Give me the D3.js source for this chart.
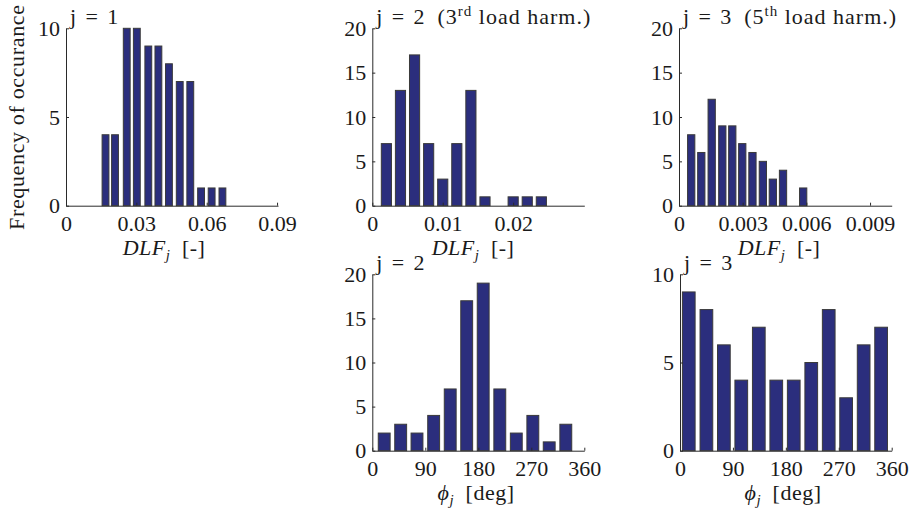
<!DOCTYPE html>
<html><head><meta charset="utf-8">
<script src="https://cdn.jsdelivr.net/npm/d3@7"></script>
<style>
body{margin:0;background:#fff}
</style>
</head><body>
<svg id="c" width="914" height="513"></svg>
<script>
// ---- data ----
const dlf1Centers = [0.01685,0.0209,0.0259,0.0302,0.0351,0.0394,0.0439,0.0485,0.0530,0.0576,0.0621,0.0667];
const dlf1Counts  = [4,4,10,10,9,9,8,7,7,1,1,1];
const dlf2Centers = [0.002,0.004,0.006,0.008,0.010,0.012,0.014,0.016,0.018,0.020,0.022,0.024];
const dlf2Counts  = [7,13,17,7,3,7,13,1,0,1,1,1];
const dlf3Centers = [0.000575,0.00105,0.00154,0.00204,0.00251,0.00298,0.00346,0.00395,0.00442,0.00490,0.00538,0.00585];
const dlf3Counts  = [8,6,12,9,9,7,6,5,3,4,0,2];
const phi2Centers = [20.2,48.2,75.9,104.2,132.3,160.3,188.3,216.5,244.5,272.6,300.4,328.6];
const phi2Counts  = [2,3,2,4,7,17,19,7,2,4,1,3];
const phi3Centers = [14.9,44.9,74.6,104.2,134.0,163.7,193.4,223.2,252.9,282.5,312.3,342.0];
const phi3Counts  = [9,8,6,4,7,4,4,5,8,3,6,7];

const dlf1Ticks = [0,0.03,0.06,0.09];
const dlf1TickLabels = ["0","0.03","0.06","0.09"];
const dlf2Ticks = [0,0.01,0.02];
const dlf2TickLabels = ["0","0.01","0.02"];
const dlf3Ticks = [0,0.003,0.006,0.009];
const dlf3TickLabels = ["0","0.003","0.006","0.009"];
const phiTicks = [0,90,180,270,360];
const phiTickLabels = ["0","90","180","270","360"];
const yTicks10 = [0,5,10];
const yTicks20 = [0,5,10,15,20];

const yLabel = "Frequency of occurance";

// ---- layout ----
const FONT = '"Liberation Serif","Times New Roman",serif';
const FS = 22;
const barFill = "#2b2e7d", barEdge = "#3a3a3a", axisCol = "#2a2a2a", txtCol = "#1a1a1a";
const SP = "\u2004"; // wider space around '=' (math spacing)
const panels = [
  {c:dlf1Centers, n:dlf1Counts, xr:[66,278], yr:[205.7,28.3], xd:[0,0.0904], xt:dlf1Ticks, xl:dlf1TickLabels, ymax:10, yt:yTicks10,
   title:[[`j${SP}=${SP}1`]], xlab:"dlf", xlabX:164},
  {c:dlf2Centers, n:dlf2Counts, xr:[372.3,584.3], yr:[205.7,28.3], xd:[0,0.0301], xt:dlf2Ticks, xl:dlf2TickLabels, ymax:20, yt:yTicks20,
   title:[[`j${SP}=${SP}2\u2002(3`],["rd","sup"],[" load harm.)"]], xlab:"dlf", xlabX:473},
  {c:dlf3Centers, n:dlf3Counts, xr:[679,891.7], yr:[205.7,28.3], xd:[0,0.01002], xt:dlf3Ticks, xl:dlf3TickLabels, ymax:20, yt:yTicks20,
   title:[[`j${SP}=${SP}3\u2002(5`],["th","sup"],[" load harm.)"]], xlab:"dlf", xlabX:779},
  {c:phi2Centers, n:phi2Counts, xr:[372.3,584.3], yr:[450.7,274.3], xd:[0,360], xt:phiTicks, xl:phiTickLabels, ymax:20, yt:yTicks20,
   title:[[`j${SP}=${SP}2`]], xlab:"phi", xlabX:476},
  {c:phi3Centers, n:phi3Counts, xr:[680,891.7], yr:[450.7,274.3], xd:[0,360], xt:phiTicks, xl:phiTickLabels, ymax:10, yt:yTicks10,
   title:[[`j${SP}=${SP}3`]], xlab:"phi", xlabX:783},
];

const svg = d3.select("#c");

panels.forEach(p => {
  const x = d3.scaleLinear().domain(p.xd).range(p.xr);
  const y = d3.scaleLinear().domain([0,p.ymax]).range(p.yr);
  const g = svg.append("g");
  const pitch = x(p.c[1]) - x(p.c[0]);
  const bw = pitch * 0.72;

  g.selectAll("rect").data(p.c).join("rect")
    .attr("x", d => x(d) - bw/2)
    .attr("width", bw)
    .attr("y", (d,i) => y(p.n[i]))
    .attr("height", (d,i) => y(0) - y(p.n[i]))
    .attr("fill", barFill)
    .attr("stroke", barEdge)
    .attr("stroke-width", 1);

  const xa = g.append("g").attr("transform", `translate(0,${p.yr[0]})`)
    .call(d3.axisBottom(x).tickValues(p.xt).tickFormat((d,i)=>p.xl[i]).tickSize(-3).tickSizeOuter(0).tickPadding(10));
  const ya = g.append("g").attr("transform", `translate(${p.xr[0]},0)`)
    .call(d3.axisLeft(y).tickValues(p.yt).tickSize(-3).tickSizeOuter(0).tickPadding(6));
  [xa, ya].forEach(a => {
    a.attr("font-family", FONT).attr("font-size", FS);
    a.select(".domain").attr("stroke", axisCol).attr("stroke-width", 1);
    a.selectAll(".tick line").attr("stroke", axisCol);
    a.selectAll(".tick text").style("font-family", FONT).style("font-size", FS + "px").attr("fill", txtCol);
  });

  // title (left-aligned at top of axes)
  const t = g.append("text").attr("x", p.xr[0] + 4).attr("y", p.yr[1] - 4)
    .style("font-family", FONT).style("font-size", FS + "px").style("letter-spacing", "1px").attr("fill", txtCol);
  let prevSup = false;
  p.title.forEach(([s, kind]) => {
    if (kind === "sup") { t.append("tspan").style("font-size", "15px").attr("dy", -8).text(s); prevSup = true; }
    else {
      const ts = t.append("tspan").text(s);
      if (prevSup) ts.attr("dy", 8);
      prevSup = false;
    }
  });

  // x label
  const xl = g.append("text").attr("x", p.xlabX).attr("y", p.yr[0] + 49)
    .style("font-family", FONT).style("font-size", FS + "px").style("letter-spacing", "0.5px")
    .attr("text-anchor", "middle").attr("fill", txtCol);
  if (p.xlab === "dlf") {
    xl.append("tspan").attr("font-style", "italic").text("DLF");
    xl.append("tspan").attr("font-style", "italic").style("font-size", "15px").attr("dy", 5).text("j");
    xl.append("tspan").attr("dy", -5).text("\u2002[-]");
  } else {
    xl.append("tspan").attr("font-style", "italic").text("\u03D5");
    xl.append("tspan").attr("font-style", "italic").style("font-size", "15px").attr("dy", 5).text("j");
    xl.append("tspan").attr("dy", -5).text("\u2002[deg]");
  }
});

// shared y label
svg.append("text")
  .attr("transform", "translate(24,117.5) rotate(-90)")
  .attr("text-anchor", "middle")
  .style("font-family", FONT).style("font-size", FS + "px")
  .attr("fill", txtCol)
  .attr("textLength", 225).attr("lengthAdjust", "spacing")
  .text(yLabel);
</script>
</body></html>
